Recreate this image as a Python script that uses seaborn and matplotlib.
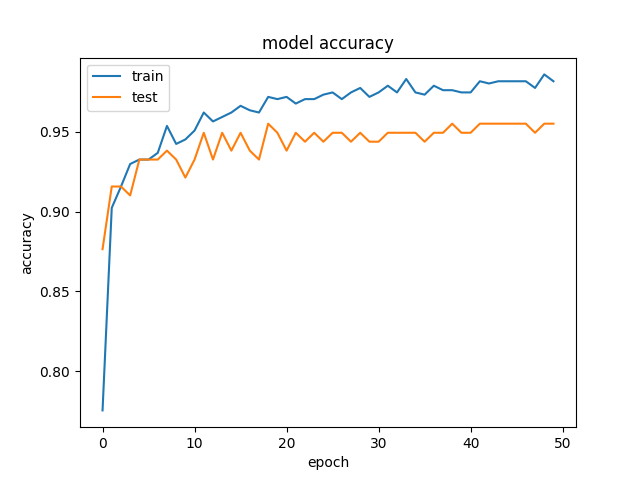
import numpy as np
import pandas as pd
import matplotlib
matplotlib.use('Agg')
import matplotlib.pyplot as plt
import seaborn as sns

# accuracy per epoch
train_acc = [0.7753, 0.9023, 0.9156, 0.9298, 0.9326, 0.9326, 0.9368, 0.9537, 0.9424, 0.9452,
             0.9508, 0.9621, 0.9565, 0.9593, 0.9621, 0.9663, 0.9635, 0.9621, 0.9719, 0.9705,
             0.9719, 0.9677, 0.9705, 0.9705, 0.9733, 0.9747, 0.9705, 0.9747, 0.9775, 0.9719,
             0.9747, 0.9789, 0.9747, 0.9831, 0.9747, 0.9733, 0.9789, 0.9761, 0.9761, 0.9747,
             0.9747, 0.9817, 0.9803, 0.9817, 0.9817, 0.9817, 0.9817, 0.9775, 0.9860, 0.9817]
test_acc = [0.8764, 0.9157, 0.9157, 0.9101, 0.9326, 0.9326, 0.9326, 0.9382, 0.9326, 0.9213,
            0.9326, 0.9494, 0.9326, 0.9494, 0.9382, 0.9494, 0.9382, 0.9326, 0.9551, 0.9494,
            0.9382, 0.9494, 0.9438, 0.9494, 0.9438, 0.9494, 0.9494, 0.9438, 0.9494, 0.9438,
            0.9438, 0.9494, 0.9494, 0.9494, 0.9494, 0.9438, 0.9494, 0.9494, 0.9551, 0.9494,
            0.9494, 0.9551, 0.9551, 0.9551, 0.9551, 0.9551, 0.9551, 0.9494, 0.9551, 0.9551]
epochs = list(range(len(train_acc)))

fig, ax = plt.subplots(figsize=(6.4, 4.8), dpi=100)

sns.lineplot(x=epochs, y=train_acc, label='train', ax=ax, color='#1f77b4')
sns.lineplot(x=epochs, y=test_acc, label='test', ax=ax, color='#ff7f0e')

ax.set_title('model accuracy')
ax.set_xlabel('epoch')
ax.set_ylabel('accuracy')
ax.legend(loc='upper left')

plt.savefig('out.png', dpi=100)
